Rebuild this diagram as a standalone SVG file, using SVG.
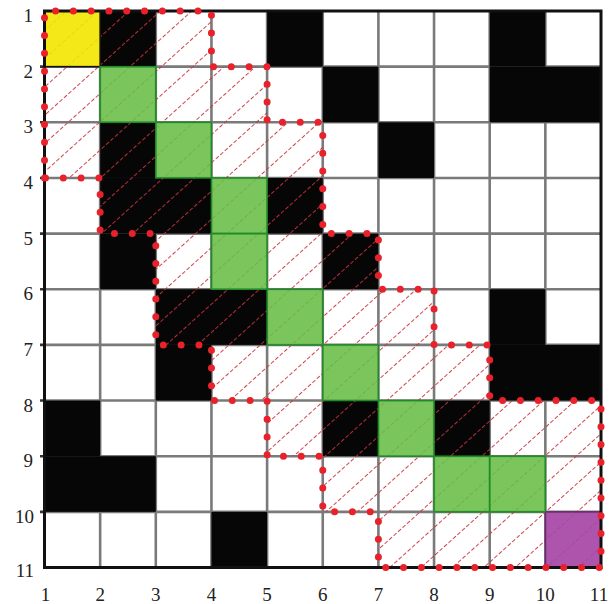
<svg xmlns="http://www.w3.org/2000/svg" width="613" height="604" viewBox="0 0 613 604">
<style>
.blk{fill:#060606}
.grn{fill:#68bd45;fill-opacity:0.88;stroke:#1f8a2a;stroke-width:1.5}
.grid{stroke:#7a7a7a;stroke-width:2.6;fill:none}
.lbl{font-family:"Liberation Serif","Times New Roman",serif;font-size:19px;fill:#222}
.dots{fill:none;stroke:#e8212b;stroke-width:7;stroke-linecap:round;stroke-linejoin:round;stroke-dasharray:0 17.8}
</style>
<defs>
<pattern id="hatch" patternUnits="userSpaceOnUse" width="18" height="21" patternTransform="rotate(-42)">
<line x1="0" y1="10.5" x2="18" y2="10.5" stroke="#c8323a" stroke-opacity="0.9" stroke-width="1" stroke-dasharray="4 2"/>
</pattern>
</defs>
<rect width="613" height="604" fill="#ffffff"/>
<g id="gridlines" class="grid">
<path d="M100.15 11V567.5M155.8 11V567.5M211.45 11V567.5M267.1 11V567.5M322.75 11V567.5M378.4 11V567.5M434.05 11V567.5M489.7 11V567.5M545.35 11V567.5"/>
<path d="M44.5 66.65H601M44.5 122.3H601M44.5 177.95H601M44.5 233.6H601M44.5 289.25H601M44.5 344.9H601M44.5 400.55H601M44.5 456.2H601M44.5 511.85H601"/>
<path d="M40 66.65H45M40 122.3H45M40 177.95H45M40 233.6H45M40 289.25H45M40 344.9H45M40 400.55H45M40 456.2H45M40 511.85H45" stroke="#333"/>
</g>
<g id="black-cells" class="blk">
<rect x="100.15" y="11" width="55.65" height="55.65"/>
<rect x="267.1" y="11" width="55.65" height="55.65"/>
<rect x="489.7" y="11" width="55.65" height="55.65"/>
<rect x="322.75" y="66.65" width="55.65" height="55.65"/>
<rect x="489.7" y="66.65" width="111.3" height="55.65"/>
<rect x="100.15" y="122.3" width="55.65" height="55.65"/>
<rect x="378.4" y="122.3" width="55.65" height="55.65"/>
<rect x="100.15" y="177.95" width="111.3" height="55.65"/>
<rect x="267.1" y="177.95" width="55.65" height="55.65"/>
<rect x="100.15" y="233.6" width="55.65" height="55.65"/>
<rect x="322.75" y="233.6" width="55.65" height="55.65"/>
<rect x="155.8" y="289.25" width="111.3" height="55.65"/>
<rect x="489.7" y="289.25" width="55.65" height="55.65"/>
<rect x="155.8" y="344.9" width="55.65" height="55.65"/>
<rect x="489.7" y="344.9" width="111.3" height="55.65"/>
<rect x="44.5" y="400.55" width="55.65" height="55.65"/>
<rect x="322.75" y="400.55" width="55.65" height="55.65"/>
<rect x="434.05" y="400.55" width="55.65" height="55.65"/>
<rect x="44.5" y="456.2" width="111.3" height="55.65"/>
<rect x="211.45" y="511.85" width="55.65" height="55.65"/>
</g>
<g id="hatched-band">
<path fill="url(#hatch)" d="M44.5 11H211.45V66.65H267.1V122.3H322.75V233.6H378.4V289.25H434.05V344.9H489.7V400.55H601V567.5H378.4V511.85H322.75V456.2H267.1V400.55H211.45V344.9H155.8V233.6H100.15V177.95H44.5Z"/>
</g>
<g id="start-cell"><rect x="44.5" y="11" width="55.65" height="55.65" fill="#f3e600" fill-opacity="0.9" stroke="#111" stroke-width="1.5"/></g>
<g id="end-cell"><rect x="545.35" y="511.85" width="55.65" height="55.65" fill="#a646a6" fill-opacity="0.92" stroke="#6a2a6a" stroke-width="1.5"/></g>
<g id="path-cells">
<rect class="grn" x="100.15" y="66.65" width="55.65" height="55.65"/>
<rect class="grn" x="155.8" y="122.3" width="55.65" height="55.65"/>
<rect class="grn" x="211.45" y="177.95" width="55.65" height="55.65"/>
<rect class="grn" x="211.45" y="233.6" width="55.65" height="55.65"/>
<rect class="grn" x="267.1" y="289.25" width="55.65" height="55.65"/>
<rect class="grn" x="322.75" y="344.9" width="55.65" height="55.65"/>
<rect class="grn" x="378.4" y="400.55" width="55.65" height="55.65"/>
<rect class="grn" x="434.05" y="456.2" width="55.65" height="55.65"/>
<rect class="grn" x="489.7" y="456.2" width="55.65" height="55.65"/>
</g>
<rect id="frame" x="44.5" y="11" width="556.5" height="556.5" fill="none" stroke="#111" stroke-width="3"/>
<g id="band-outline">
<path class="dots" d="M44.5 177.95V11H211.45V66.65H267.1V122.3H322.75V233.6H378.4V289.25H434.05V344.9H489.7V400.55H601V567.5H378.4V511.85H322.75V456.2H267.1V400.55H211.45V344.9H155.8V233.6H100.15V177.95H44.5"/>
</g>
<g id="row-labels" class="lbl" text-anchor="end">
<text x="33" y="22">1</text>
<text x="33" y="77.6">2</text>
<text x="33" y="133.3">3</text>
<text x="33" y="189">4</text>
<text x="33" y="244.6">5</text>
<text x="33" y="300.2">6</text>
<text x="33" y="355.9">7</text>
<text x="33" y="411.5">8</text>
<text x="33" y="467.2">9</text>
<text x="34" y="522.8">10</text>
<text x="34" y="577">11</text>
</g>
<g id="col-labels" class="lbl" text-anchor="middle">
<text x="45.5" y="601">1</text>
<text x="100.15" y="601">2</text>
<text x="155.8" y="601">3</text>
<text x="211.45" y="601">4</text>
<text x="267.1" y="601">5</text>
<text x="322.75" y="601">6</text>
<text x="378.4" y="601">7</text>
<text x="434.05" y="601">8</text>
<text x="489.7" y="601">9</text>
<text x="545.35" y="601">10</text>
<text x="599" y="601">11</text>
</g>
</svg>
